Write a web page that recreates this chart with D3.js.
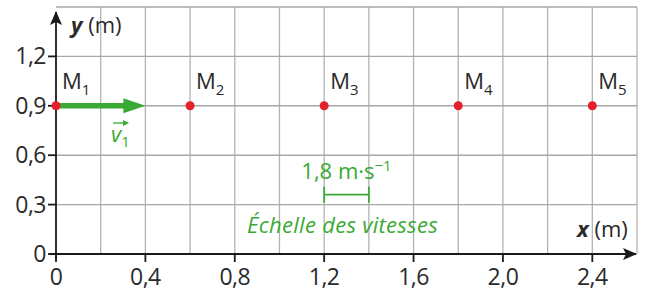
<!DOCTYPE html>
<html lang="fr">
<head>
<meta charset="utf-8">
<title>Chronophotographie</title>
<script src="https://cdn.jsdelivr.net/npm/d3@7"></script>
<style>
  body { margin: 0; background: #fff; }
  .lbl { font-family: "Open Sans", sans-serif; fill: #2a2a2a; }
  .green { fill: #3aaa35; }
</style>
</head>
<body>
<script>
// data
var pointNames = ["1", "2", "3", "4", "5"];
var pointX = [0, 0.6, 1.2, 1.8, 2.4];
var pointY = [0.9, 0.9, 0.9, 0.9, 0.9];
var xTicks = [0, 0.4, 0.8, 1.2, 1.6, 2.0, 2.4];
var yTicks = [0, 0.3, 0.6, 0.9, 1.2];
var xGrid = [0.2, 0.4, 0.6, 0.8, 1.0, 1.2, 1.4, 1.6, 1.8, 2.0, 2.2, 2.4, 2.6];
var yGrid = [0.3, 0.6, 0.9, 1.2, 1.5];
var vStart = [0, 0.9], vEnd = [0.4, 0.9];
var scaleBar = [1.2, 1.4], scaleBarY = 0.36;

var w = 645, h = 293;
var x = d3.scaleLinear().domain([0, 2.6]).range([56, 637]);
var y = d3.scaleLinear().domain([0, 1.5]).range([254, 7]);
var fmt = function(d) { return d3.format(d === 0 ? "d" : ".1f")(d).replace(".", ","); };

var svg = d3.select("body").append("svg").attr("width", w).attr("height", h);

// grid
svg.selectAll(".gx").data(xGrid).enter().append("line")
  .attr("x1", x).attr("x2", x).attr("y1", y(0)).attr("y2", y(1.5))
  .attr("stroke", "#b3b3b3").attr("stroke-width", 1.3);
svg.selectAll(".gy").data(yGrid).enter().append("line")
  .attr("x1", x(0)).attr("x2", x(2.6)).attr("y1", y).attr("y2", y)
  .attr("stroke", "#a8a8a8").attr("stroke-width", 1.4);

var defs = svg.append("defs");
defs.append("marker").attr("id", "ah").attr("viewBox", "0 0 14 12")
  .attr("refX", 13).attr("refY", 6).attr("markerWidth", 14).attr("markerHeight", 12)
  .attr("markerUnits", "userSpaceOnUse").attr("orient", "auto")
  .append("path").attr("d", "M0,0 L14,6 L0,12 L3,6 Z").attr("fill", "#1a1a1a");

// axes
svg.append("line").attr("x1", x(0) - 6).attr("x2", x(2.6) - 1).attr("y1", y(0)).attr("y2", y(0))
  .attr("stroke", "#1a1a1a").attr("stroke-width", 1.8).attr("marker-end", "url(#ah)");
svg.append("line").attr("x1", x(0)).attr("x2", x(0)).attr("y1", y(0) + 5).attr("y2", 12)
  .attr("stroke", "#1a1a1a").attr("stroke-width", 1.8).attr("marker-end", "url(#ah)");

svg.selectAll(".tx").data(xTicks).enter().append("line")
  .attr("x1", x).attr("x2", x).attr("y1", y(0)).attr("y2", y(0) + 8)
  .attr("stroke", "#1a1a1a").attr("stroke-width", 1.8);
svg.selectAll(".ty").data(yTicks).enter().append("line")
  .attr("x1", x(0) - 8).attr("x2", x(0)).attr("y1", y).attr("y2", y)
  .attr("stroke", "#1a1a1a").attr("stroke-width", 1.8);

svg.selectAll(".lx").data(xTicks).enter().append("text").attr("class", "lbl")
  .attr("x", x).attr("y", 285).attr("text-anchor", "middle").attr("font-size", 23)
  .attr("letter-spacing", -0.5).text(fmt);
svg.selectAll(".ly").data(yTicks).enter().append("text").attr("class", "lbl")
  .attr("x", 46).attr("y", function(d) { return y(d) + 8; }).attr("text-anchor", "end").attr("font-size", 23)
  .attr("letter-spacing", -0.5).text(fmt);

// axis titles
var ty = svg.append("text").attr("class", "lbl").attr("x", 71).attr("y", 33).attr("font-size", 22);
ty.append("tspan").attr("font-weight", "bold").attr("font-style", "italic").text("y");
ty.append("tspan").text(" (m)");
var tx = svg.append("text").attr("class", "lbl").attr("x", 577).attr("y", 237).attr("font-size", 22);
tx.append("tspan").attr("font-weight", "bold").attr("font-style", "italic").text("x");
tx.append("tspan").text(" (m)");

// velocity vector
svg.append("line").attr("x1", x(vStart[0])).attr("y1", y(vStart[1]))
  .attr("x2", x(vEnd[0]) - 18).attr("y2", y(vEnd[1]))
  .attr("stroke", "#3aaa35").attr("stroke-width", 5.5);
svg.append("path")
  .attr("d", "M" + (x(vEnd[0]) - 22) + "," + (y(vEnd[1]) - 7.5) + " L" + x(vEnd[0]) + "," + y(vEnd[1]) +
    " L" + (x(vEnd[0]) - 22) + "," + (y(vEnd[1]) + 7.5) + " Z")
  .attr("fill", "#3aaa35");

var vl = svg.append("text").attr("class", "lbl green").attr("x", 111).attr("y", 142).attr("font-size", 22);
vl.append("tspan").attr("font-style", "italic").text("v");
vl.append("tspan").attr("font-size", 15).attr("dy", 5).text("1");
svg.append("line").attr("x1", 113).attr("x2", 127).attr("y1", 123).attr("y2", 123)
  .attr("stroke", "#3aaa35").attr("stroke-width", 1.3);
svg.append("path").attr("d", "M123,120 L129,123 L123,126 Z").attr("fill", "#3aaa35");

// points
svg.selectAll(".pt").data(pointX).enter().append("circle")
  .attr("cx", function(d) { return x(d); }).attr("cy", function(d, i) { return y(pointY[i]); })
  .attr("r", 4.5).attr("fill", "#e3202b");
var pl = svg.selectAll(".pl").data(pointX).enter().append("text").attr("class", "lbl")
  .attr("x", function(d) { return x(d) + 6; }).attr("y", function(d, i) { return y(pointY[i]) - 17; })
  .attr("font-size", 22);
pl.append("tspan").text("M");
pl.append("tspan").attr("font-size", 15).attr("dy", 6).text(function(d, i) { return pointNames[i]; });

// velocity scale
var sy = y(scaleBarY);
svg.append("line").attr("x1", x(scaleBar[0])).attr("x2", x(scaleBar[1])).attr("y1", sy).attr("y2", sy)
  .attr("stroke", "#3aaa35").attr("stroke-width", 1.8);
svg.selectAll(".sc").data(scaleBar).enter().append("line")
  .attr("x1", x).attr("x2", x).attr("y1", sy - 8).attr("y2", sy + 8)
  .attr("stroke", "#3aaa35").attr("stroke-width", 1.8);
var sl = svg.append("text").attr("class", "lbl green").attr("x", x(1.3)).attr("y", 179)
  .attr("text-anchor", "middle").attr("font-size", 22);
sl.append("tspan").text("1,8 m·s");
sl.append("tspan").attr("font-size", 15).attr("dy", -8).text("−1");
svg.append("text").attr("class", "lbl green").attr("x", x(1.3) - 4).attr("y", 233)
  .attr("text-anchor", "middle").attr("font-size", 22).attr("font-style", "italic")
  .attr("letter-spacing", 0.3).text("Échelle des vitesses");
</script>
</body>
</html>
